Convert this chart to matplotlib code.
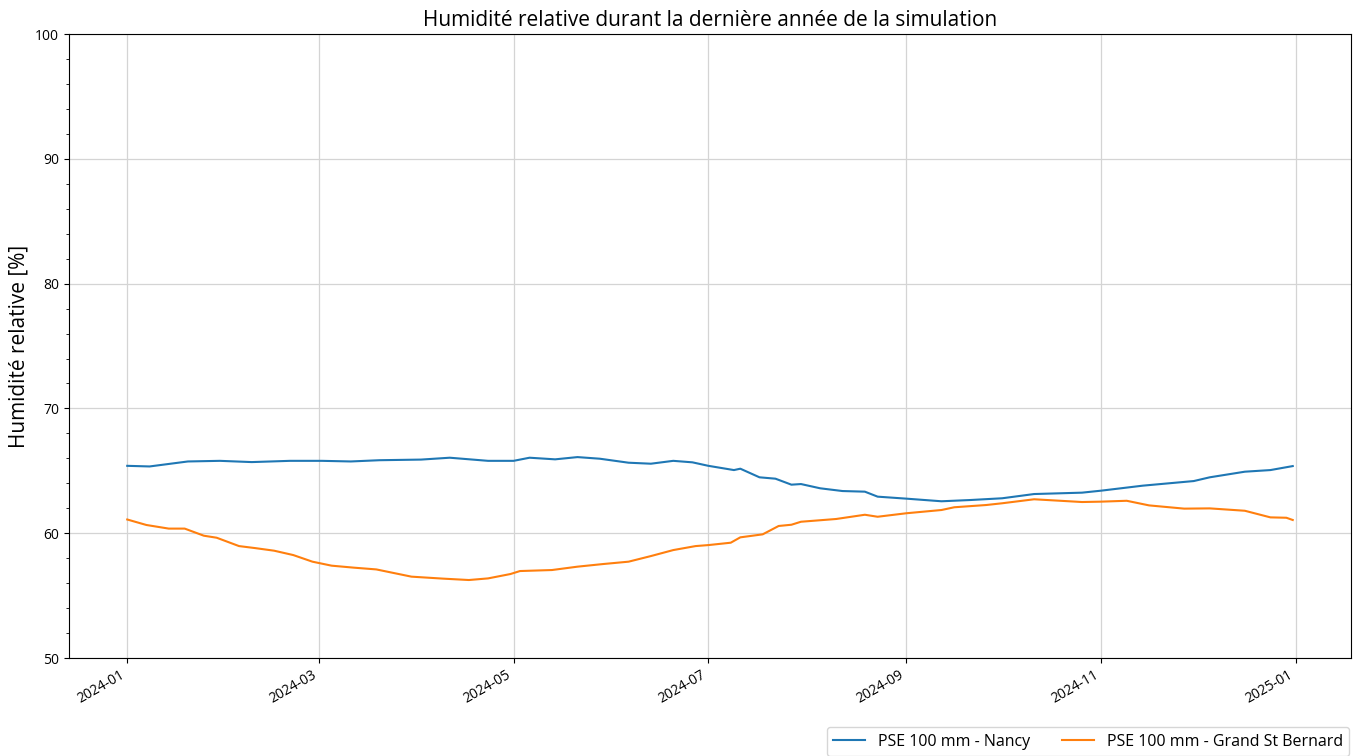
import matplotlib
matplotlib.use("Agg")
import matplotlib.pyplot as plt
import matplotlib.dates as mdates
from matplotlib.ticker import MultipleLocator
import pandas as pd

plt.rcParams['font.family'] = ['Open Sans', 'DejaVu Sans']

# relative humidity readings, last simulated year
nancy_days = pd.to_datetime([
    "2024-01-01", "2024-01-08", "2024-01-20", "2024-01-30", "2024-02-09",
    "2024-02-21", "2024-03-02", "2024-03-11", "2024-03-20", "2024-04-02",
    "2024-04-11", "2024-04-23", "2024-05-01", "2024-05-06", "2024-05-14",
    "2024-05-21", "2024-05-28", "2024-06-06", "2024-06-13", "2024-06-20",
    "2024-06-26", "2024-07-01", "2024-07-09", "2024-07-11", "2024-07-17",
    "2024-07-22", "2024-07-27", "2024-07-30", "2024-08-05", "2024-08-12",
    "2024-08-19", "2024-08-23", "2024-09-01", "2024-09-12", "2024-09-21",
    "2024-10-01", "2024-10-11", "2024-10-26", "2024-11-01", "2024-11-14",
    "2024-11-30", "2024-12-05", "2024-12-16", "2024-12-24", "2024-12-31",
])
nancy_rh = [
    65.4, 65.35, 65.75, 65.8, 65.7,
    65.8, 65.8, 65.75, 65.85, 65.9,
    66.05, 65.8, 65.8, 66.05, 65.92,
    66.1, 65.97, 65.65, 65.57, 65.8,
    65.68, 65.4, 65.06, 65.17, 64.48,
    64.37, 63.89, 63.94, 63.6, 63.38,
    63.33, 62.93, 62.77, 62.56, 62.66,
    62.8, 63.14, 63.25, 63.41, 63.81,
    64.18, 64.48, 64.93, 65.06, 65.38,
]

gsb_days = pd.to_datetime([
    "2024-01-01", "2024-01-07", "2024-01-14", "2024-01-19", "2024-01-25",
    "2024-01-29", "2024-02-05", "2024-02-10", "2024-02-16", "2024-02-22",
    "2024-02-28", "2024-03-05", "2024-03-12", "2024-03-19", "2024-03-30",
    "2024-04-09", "2024-04-17", "2024-04-23", "2024-04-30", "2024-05-03",
    "2024-05-13", "2024-05-21", "2024-05-29", "2024-06-06", "2024-06-13",
    "2024-06-20", "2024-06-27", "2024-07-01", "2024-07-08", "2024-07-11",
    "2024-07-18", "2024-07-23", "2024-07-27", "2024-07-30", "2024-08-10",
    "2024-08-19", "2024-08-23", "2024-09-01", "2024-09-12", "2024-09-16",
    "2024-09-26", "2024-10-01", "2024-10-11", "2024-10-26", "2024-11-01",
    "2024-11-09", "2024-11-16", "2024-11-27", "2024-12-05", "2024-12-16",
    "2024-12-24", "2024-12-29", "2024-12-31",
])
gsb_rh = [
    61.1, 60.66, 60.37, 60.37, 59.8,
    59.64, 58.97, 58.81, 58.6, 58.25,
    57.72, 57.4, 57.24, 57.1, 56.52,
    56.36, 56.25, 56.38, 56.73, 56.97,
    57.05, 57.32, 57.53, 57.72, 58.17,
    58.65, 58.97, 59.05, 59.24, 59.67,
    59.91, 60.58, 60.68, 60.92, 61.14,
    61.48, 61.32, 61.6, 61.86, 62.08,
    62.26, 62.4, 62.72, 62.5, 62.53,
    62.6, 62.23, 61.97, 61.99, 61.8,
    61.27, 61.24, 61.06,
]

fig = plt.figure(figsize=(13.6, 7.56), dpi=100)
ax = fig.add_axes([0.0507, 0.1296, 0.9427, 0.8254])

ax.plot(nancy_days, nancy_rh, color='tab:blue', lw=1.5, label='PSE 100 mm - Nancy')
ax.plot(gsb_days, gsb_rh, color='tab:orange', lw=1.5, label='PSE 100 mm - Grand St Bernard')

ax.set_ylim(50, 100)
ax.yaxis.set_major_locator(MultipleLocator(10))
ax.yaxis.set_minor_locator(MultipleLocator(2))
ax.xaxis.set_major_locator(mdates.MonthLocator(bymonth=[1, 3, 5, 7, 9, 11]))
ax.xaxis.set_major_formatter(mdates.DateFormatter('%Y-%m'))
ax.grid(True, color='#d4d4d4', lw=0.9)
ax.tick_params(labelsize=10)
for lbl in ax.get_xticklabels():
    lbl.set_rotation(30)
    lbl.set_ha('right')

ax.set_title('Humidité relative durant la dernière année de la simulation', fontsize=15)
ax.set_ylabel('Humidité relative [%]', fontsize=15)

fig.legend(loc='upper right', bbox_to_anchor=(0.992, 0.038), ncol=2, fontsize=11.5,
           frameon=True, borderaxespad=0)

fig.savefig('out.png', dpi=100)
